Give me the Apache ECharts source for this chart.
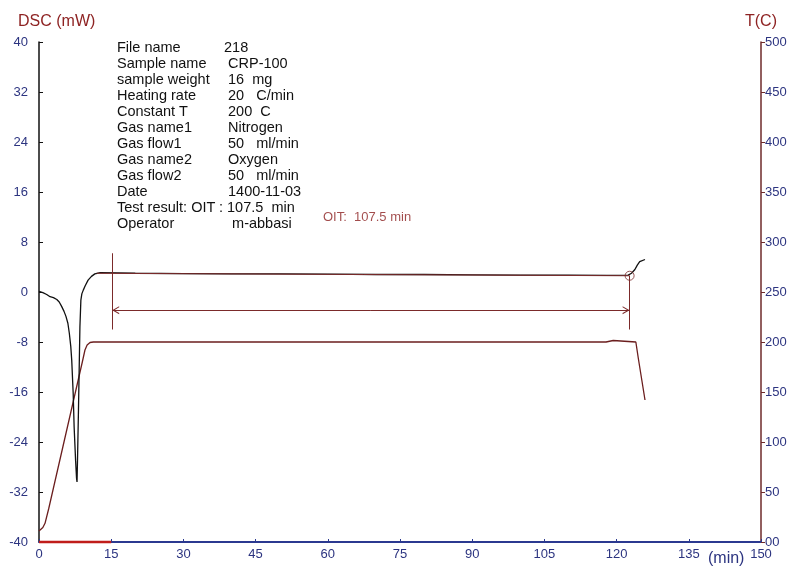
<!DOCTYPE html>
<html><head><meta charset="utf-8">
<script src="https://cdn.jsdelivr.net/npm/echarts@6/dist/echarts.min.js"></script>
<style>html,body{margin:0;padding:0;background:#fff}#c{width:790px;height:570px}</style>
</head><body><div id="c"></div>
<script>
// ---- data ----
const dscTime   = [0, 0.8, 1.6, 2.3, 3.0, 3.7, 4.2, 4.7, 5.2, 5.6, 6.0, 6.3, 6.6, 6.8, 7.1, 7.3, 7.6, 7.8, 7.9, 8.0, 8.2, 8.5, 8.7, 8.9, 9.2, 9.6, 10.2, 10.9, 11.6, 12.7, 20, 30, 40, 50, 60, 70, 80, 90, 100, 110, 118, 122.4, 123.1, 123.8, 124.3, 124.8, 125.9];
const dscValues = [0.1, -0.1, -0.4, -0.75, -0.9, -1.2, -1.6, -2.3, -3.1, -3.9, -5.0, -6.6, -8.7, -10.9, -16.2, -21.6, -26.9, -29.8, -30.4, -26.9, -18.9, -5.6, -1.3, -0.3, 0.3, 1.0, 1.9, 2.5, 2.9, 3.1, 3.0, 2.95, 2.9, 2.9, 2.85, 2.8, 2.8, 2.75, 2.7, 2.7, 2.65, 2.7, 3.0, 3.6, 4.3, 4.85, 5.2];
const tempTime   = [0, 0.4, 0.8, 1.25, 2, 3, 4, 5, 6, 7, 8, 9, 9.55, 10.0, 10.6, 11.3, 20, 40, 60, 80, 100, 117.8, 117.9, 119.3, 119.4, 124.0, 124.5, 125.0, 125.5, 125.9];
const tempValues = [11, 12, 14.5, 18.7, 33, 54, 75, 96, 117, 138, 159, 180, 192, 197, 199.5, 200, 200, 200, 200, 200, 200, 200, 201.5, 201.5, 200, 200, 184, 169, 154, 142];
const baselineTime   = [12, 122.7];
const baselineValues = [3.0, 2.6];
const oitStart = 15.2, oitEnd = 122.7;
const oitMarkerValue = 2.6;
const oitArrowValue = -2.9;
const oitLineTop = 6.2, oitLineBottom = -6.0;
const timeRangeMarker = [0, 15];
const oitText = 'OIT:  107.5 min';
const infoLabels = ['File name','Sample name','sample weight','Heating rate','Constant T','Gas name1','Gas flow1','Gas name2','Gas flow2','Date','Test result: OIT','Operator'];
const infoValues = ['218',' CRP-100',' 16  mg',' 20   C/min',' 200  C',' Nitrogen',' 50   ml/min',' Oxygen',' 50   ml/min',' 1400-11-03',': 107.5  min','  m-abbasi'];

// ---- chart ----
const zip = (a, b) => a.map((v, i) => [v, b[i]]);
const tickColor = '#2c3480';
const brown = '#7b2a2a';
// open chevron whose tip sits at the symbol centre
const chevron = 'path://M5,10 L10,20 L8.6,20 L5,13 L1.4,20 L0,20 Z M5,0 L5.01,0.01 Z';
const infoFont = '14.5px "Liberation Sans", Arial';

const graphics = [
  {type:'text', left:18, top:14, style:{text:'DSC (mW)', fill:'#8e2323', font:'16px "Liberation Sans", Arial'}},
  {type:'text', left:745, top:14, style:{text:'T(C)', fill:'#8e2323', font:'16px "Liberation Sans", Arial'}},
  {type:'text', left:708, top:551, style:{text:'(min)', fill:tickColor, font:'16px "Liberation Sans", Arial'}}
];
infoLabels.forEach((lab, i) => {
  const y = 40 + i * 16;
  graphics.push({type:'text', left:117, top:y, style:{text:lab, fill:'#111', font:infoFont}});
  const v = infoValues[i];
  graphics.push({type:'text', left: v.startsWith(':') ? 219 : 224, top:y, style:{text:v, fill:'#111', font:infoFont}});
});

const chart = echarts.init(document.getElementById('c'), null, {renderer:'canvas'});
chart.setOption({
  animation:false,
  backgroundColor:'#fff',
  grid:{left:39, right:29, top:42, bottom:28},
  graphic:graphics,
  xAxis:{
    type:'value', min:0, max:150, interval:15,
    axisLine:{onZero:false, lineStyle:{color:'#2b3990', width:2}},
    axisTick:{inside:true, length:3, lineStyle:{color:'#2b3990'}},
    axisLabel:{color:tickColor, fontSize:13, margin:6, fontFamily:'"Liberation Sans", Arial', showMaxLabel:true},
    splitLine:{show:false}
  },
  yAxis:[{
    type:'value', min:-40, max:40, interval:8, position:'left',
    axisLine:{show:true, onZero:false, lineStyle:{color:'#111', width:1.5}},
    axisTick:{show:true, inside:true, length:4, lineStyle:{color:'#111'}},
    axisLabel:{color:tickColor, fontSize:13, margin:11, fontFamily:'"Liberation Sans", Arial'},
    splitLine:{show:false}
  },{
    type:'value', min:0, max:500, interval:50, position:'right',
    axisLine:{show:true, onZero:false, lineStyle:{color:'#6e2a2a', width:1.5}},
    axisTick:{show:true, inside:false, length:4, lineStyle:{color:'#6e2a2a'}},
    axisLabel:{color:tickColor, fontSize:13, margin:4, fontFamily:'"Liberation Sans", Arial', formatter:v => v === 0 ? '00' : String(v)},
    splitLine:{show:false}
  }],
  series:[
    {type:'line', name:'T', yAxisIndex:1, data:zip(tempTime, tempValues), symbol:'none',
     lineStyle:{color:'#6b1e1e', width:1.3}, z:3},
    {type:'line', name:'baseline', yAxisIndex:0, data:zip(baselineTime, baselineValues), symbol:'none',
     lineStyle:{color:brown, width:1}, z:5},
    {type:'line', name:'DSC', yAxisIndex:0, data:zip(dscTime, dscValues), symbol:'none',
     lineStyle:{color:'#111', width:1.3}, z:4,
     markLine:{
       silent:true, symbol:['none','none'], label:{show:false},
       lineStyle:{color:brown, width:1, type:'solid'},
       data:[
         [{coord:[oitStart, oitLineTop]}, {coord:[oitStart, oitLineBottom]}],
         [{coord:[oitEnd, oitMarkerValue]}, {coord:[oitEnd, oitLineBottom]}],
         [{coord:[oitStart, oitArrowValue], symbol:chevron, symbolSize:[8,14]}, {coord:[oitEnd, oitArrowValue], symbol:chevron, symbolSize:[8,14]}]
       ]
     }},
    {type:'scatter', name:'OIT point', yAxisIndex:0, data:[[oitEnd, oitMarkerValue]], symbol:'circle', symbolSize:9,
     itemStyle:{color:'rgba(0,0,0,0)', borderColor:brown, borderWidth:1}, z:6, silent:true,
     label:{show:false}},
    {type:'line', name:'range', yAxisIndex:0, data:[[timeRangeMarker[0], -40],[timeRangeMarker[1], -40]], symbol:'none',
     lineStyle:{color:'#c01d1a', width:2.5}, clip:false, z:7},
    {type:'scatter', name:'OIT text', yAxisIndex:0, data:[[59, 12]], symbolSize:0,
     label:{show:true, formatter:oitText, position:'right', distance:0, color:'#8b1f1f', fontSize:13, fontFamily:'"Liberation Sans", Arial'}, silent:true}
  ]
});
</script></body></html>
